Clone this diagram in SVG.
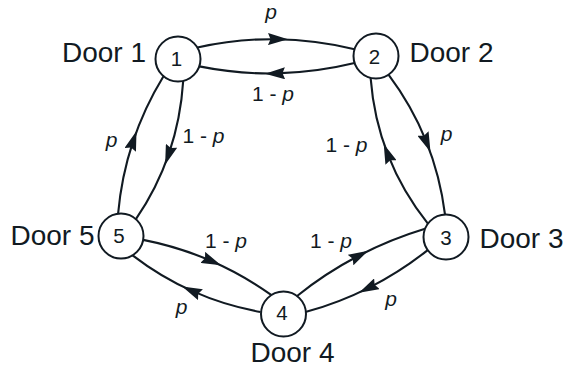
<svg xmlns="http://www.w3.org/2000/svg" width="565" height="369" viewBox="0 0 565 369">
  <defs>
    <style>
      .node circle { fill: #ffffff; stroke: #111a22; stroke-width: 2; }
      .num { font-family: "Liberation Sans", Arial, sans-serif; font-size: 20.5px; fill: #111a22; text-anchor: middle; }
      .door { font-family: "Liberation Sans", Arial, sans-serif; font-size: 28px; fill: #111a22; }
      .edge { fill: none; stroke: #111a22; stroke-width: 2.1; marker-mid: url(#arrow); }
      .lbl { font-family: "Liberation Sans", Arial, sans-serif; font-size: 21px; fill: #111a22; text-anchor: middle; }
      .it { font-style: italic; }
    </style>
    <marker id="arrow" markerUnits="userSpaceOnUse" viewBox="0 0 20 12" markerWidth="20" markerHeight="12" refX="8" refY="6" orient="auto">
      <path d="M0,0 L20,6 L0,12 L2.5,6 Z" fill="#111a22"/>
    </marker>
  </defs>
  <rect width="565" height="369" fill="#ffffff"/>

  <g id="connectors">
    <path class="edge" d="M197.4,47.5 Q236.7,38.75 276,39.2 Q315.3,39.6 354.6,49.2"/>
    <path class="edge" d="M354.6,63.1 Q315.8,72.55 277,73.4 Q238.15,74.2 199.3,66.4"/>
    <path class="edge" d="M388.5,74.7 Q411.9,105.9 426,140.85 Q440.15,175.8 445,214.5"/>
    <path class="edge" d="M427.9,223.6 Q402.4,191.55 388.1,155.1 Q373.75,118.65 370.6,77.8"/>
    <path class="edge" d="M427.7,250.1 Q400.3,271.85 369.7,287.35 Q339.15,302.85 305.4,312.1"/>
    <path class="edge" d="M296.75,296.2 Q325.6,273.15 357.65,256.3 Q389.7,239.45 425.05,228.8"/>
    <path class="edge" d="M260.6,312 Q225.15,305.6 193.15,291.4 Q161.15,277.25 132.6,255.3"/>
    <path class="edge" d="M143.2,239.9 Q178.15,246.75 210.1,260.5 Q242.1,274.25 271.15,294.9"/>
    <path class="edge" d="M118.1,213.7 Q121.4,176.65 132.75,142.3 Q144.1,107.9 163.5,76.2"/>
    <path class="edge" d="M183.2,80.9 Q180.8,118.7 169,153.3 Q157.2,187.85 135.9,219.2"/>

    <text class="lbl it" x="271" y="19">p</text>
    <text class="lbl" x="273" y="101">1 - <tspan class="it">p</tspan></text>
    <text class="lbl it" x="446.5" y="140.5">p</text>
    <text class="lbl" x="346.5" y="152">1 - <tspan class="it">p</tspan></text>
    <text class="lbl it" x="391" y="305.5">p</text>
    <text class="lbl" x="331" y="248">1 - <tspan class="it">p</tspan></text>
    <text class="lbl it" x="181.5" y="314">p</text>
    <text class="lbl" x="226" y="248">1 - <tspan class="it">p</tspan></text>
    <text class="lbl it" x="111.5" y="147.3">p</text>
    <text class="lbl" x="203.5" y="143.3">1 - <tspan class="it">p</tspan></text>
  </g>

  <g id="node1" class="node">
    <circle cx="178" cy="59" r="22.5"/>
    <text class="num" x="176.5" y="66">1</text>
    <text class="door" x="62" y="62">Door 1</text>
  </g>
  <g id="node2" class="node">
    <circle cx="376" cy="56" r="22.5"/>
    <text class="num" x="374.5" y="63.5">2</text>
    <text class="door" x="409.5" y="62">Door 2</text>
  </g>
  <g id="node3" class="node">
    <circle cx="446" cy="237" r="22.5"/>
    <text class="num" x="446" y="245">3</text>
    <text class="door" x="479.5" y="248">Door 3</text>
  </g>
  <g id="node4" class="node">
    <circle cx="283.5" cy="314" r="22.5"/>
    <text class="num" x="282" y="320">4</text>
    <text class="door" x="250.5" y="361.5">Door 4</text>
  </g>
  <g id="node5" class="node">
    <circle cx="121" cy="236" r="22.5"/>
    <text class="num" x="119" y="243">5</text>
    <text class="door" x="10.5" y="245">Door 5</text>
  </g>
</svg>
